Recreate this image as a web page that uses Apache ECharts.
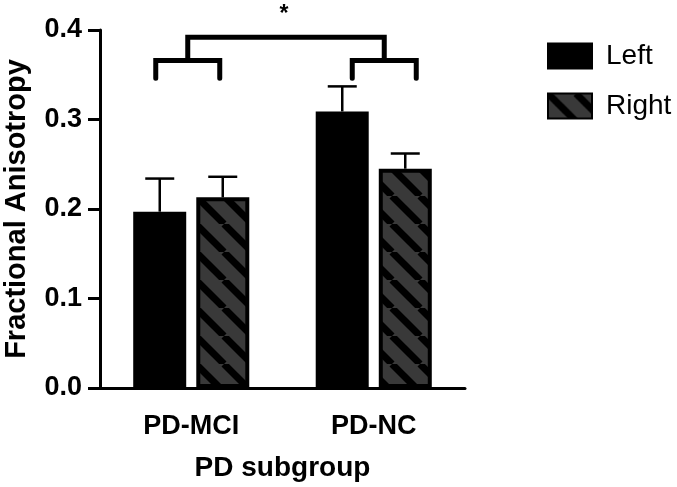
<!DOCTYPE html>
<html><head><meta charset="utf-8">
<script src="https://cdn.jsdelivr.net/npm/echarts@6/dist/echarts.min.js"></script>
<style>html,body{margin:0;padding:0;background:#fff}#c{width:677px;height:487px}</style>
</head><body><div id="c"></div>
<script>
// ---- data ----
const categories = ['PD-MCI', 'PD-NC'];
const seriesNames = ['Left', 'Right'];
const leftMean = [0.197, 0.309];
const leftErr = [0.037, 0.028];
const rightMean = [0.213, 0.245];
const rightErr = [0.023, 0.017];
const yTicks = [0.0, 0.1, 0.2, 0.3, 0.4];
const sigLabel = '*';
const xTitle = 'PD subgroup';
const yTitle = 'Fractional Anisotropy';

// ---- styling ----
const FONT = "'Liberation Sans', Arial, sans-serif";
function makeHatch() {
  const S = 28, c = document.createElement('canvas');
  c.width = S; c.height = S;
  const g = c.getContext('2d');
  g.fillStyle = '#393939'; g.fillRect(0, 0, S, S);
  g.strokeStyle = '#000'; g.lineWidth = 7;
  for (let k = -1; k <= 1; k++) {
    g.beginPath(); g.moveTo(k * S, 0); g.lineTo(k * S + S, S); g.stroke();
  }
  return c;
}
const hatch = { image: makeHatch(), repeat: 'repeat' };
const BAR_OFF = 31.5;

function errRender(offset) {
  return function (params, api) {
    const i = api.value(0), m = api.value(1), e = api.value(2);
    const x = api.coord([i, m])[0] + offset;
    const y0 = api.coord([i, m])[1], y1 = api.coord([i, m + e])[1];
    const st = { stroke: '#000', lineWidth: 2.5, fill: null };
    return { type: 'group', children: [
      { type: 'line', shape: { x1: x, y1: y0, x2: x, y2: y1 }, style: st },
      { type: 'line', shape: { x1: x - 14.5, y1: y1, x2: x + 14.5, y2: y1 }, style: st }
    ]};
  };
}

const chart = echarts.init(document.getElementById('c'), null, { renderer: 'canvas' });
chart.setOption({
  animation: false,
  backgroundColor: '#fff',
  textStyle: { fontFamily: FONT },
  grid: { left: 100, right: 212, top: 30, bottom: 99, containLabel: false, outerBoundsMode: 'none' },
  legend: {
    data: seriesNames,
    orient: 'vertical', left: 542, top: 37,
    itemWidth: 44, itemHeight: 25, itemGap: 22,
    icon: 'rect',
    textStyle: { fontSize: 28, color: '#000', fontFamily: FONT, padding: [0, 0, 0, 9] }
  },
  xAxis: {
    type: 'category', data: categories,
    name: xTitle, nameLocation: 'middle', nameGap: 66,
    nameTextStyle: { fontSize: 28, fontWeight: 'bold', color: '#000', fontFamily: FONT },
    axisLine: { lineStyle: { color: '#000', width: 3 } },
    axisTick: { alignWithLabel: true, length: 10, lineStyle: { color: '#000', width: 3 } },
    axisLabel: { fontSize: 27, fontWeight: 'bold', color: '#000', margin: 25, fontFamily: FONT }
  },
  yAxis: {
    type: 'value', min: yTicks[0], max: yTicks[yTicks.length - 1], interval: yTicks[1] - yTicks[0],
    name: yTitle, nameLocation: 'middle', nameGap: 69,
    nameTextStyle: { fontSize: 29, fontWeight: 'bold', color: '#000', fontFamily: FONT },
    axisLine: { show: true, lineStyle: { color: '#000', width: 3 } },
    axisTick: { show: true, length: 12, lineStyle: { color: '#000', width: 3 } },
    splitLine: { show: false },
    axisLabel: { fontSize: 27, fontWeight: 'bold', color: '#000', margin: 18, fontFamily: FONT,
      formatter: v => v.toFixed(1) }
  },
  series: [
    { name: seriesNames[0], type: 'bar', data: leftMean, barWidth: 53, barGap: '19%', z: 3,
      itemStyle: { color: '#000', borderColor: '#000', borderWidth: 4 } },
    { name: seriesNames[1], type: 'bar', data: rightMean, barWidth: 53, z: 3,
      itemStyle: { color: hatch, borderColor: '#000', borderWidth: 4 } },
    { type: 'custom', z: 2, clip: false, renderItem: errRender(-BAR_OFF),
      data: categories.map((c, i) => [i, leftMean[i], leftErr[i]]) },
    { type: 'custom', z: 2, clip: false, renderItem: errRender(BAR_OFF),
      data: categories.map((c, i) => [i, rightMean[i], rightErr[i]]) },
    { type: 'custom', z: 4, clip: false, silent: true, data: [[0, 0]],
      renderItem: function (params, api) {
        const c0 = api.coord([0, 0])[0], c1 = api.coord([1, 0])[0];
        const y = v => api.coord([0, v])[1];
        const legB = 0.346, pair = 0.366, top = 0.392, star = 0.417;
        const L = [c0 - BAR_OFF - 4, c0 + BAR_OFF - 3];
        const R = [c1 - BAR_OFF + 10, c1 + BAR_OFF + 11];
        const m0 = (L[0] + L[1]) / 2, m1 = (R[0] + R[1]) / 2;
        const st = { stroke: '#000', lineWidth: 5, fill: null, lineCap: 'round', lineJoin: 'miter' };
        const br = P => ({ type: 'polyline', shape: { points: [[P[0], y(legB)], [P[0], y(pair)], [P[1], y(pair)], [P[1], y(legB)]] }, style: st });
        return { type: 'group', children: [
          br(L), br(R),
          { type: 'polyline', shape: { points: [[m0, y(pair)], [m0, y(top)], [m1, y(top)], [m1, y(pair)]] }, style: st },
          { type: 'text', style: { text: sigLabel, x: (m0 + m1) / 2 - 2, y: y(star), align: 'center', verticalAlign: 'middle',
            font: 'bold 23px ' + FONT, fill: '#000' } }
        ]};
      } }
  ]
});
</script></body></html>
